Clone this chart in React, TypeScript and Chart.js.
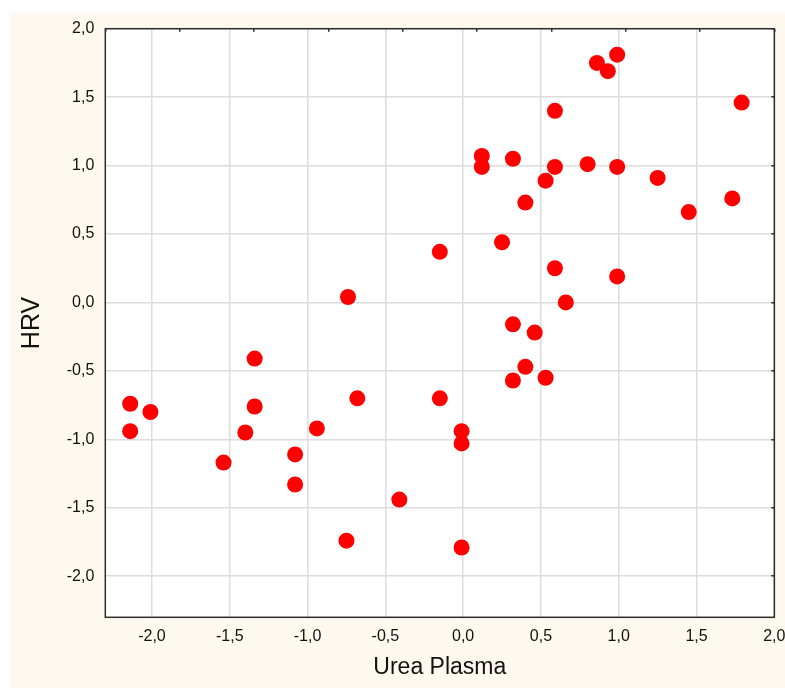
import React, { useEffect, useRef } from "react";
import { Chart, registerables } from "chart.js";

Chart.register(...registerables);

// Urea Plasma (x) vs HRV (y)
const ureaPlasma = [
  -2.14, -2.14, -2.01, -1.54, -1.40, -1.34, -1.34, -1.08, -1.08, -0.94,
  -0.74, -0.75, -0.68, -0.41, -0.15, -0.15, -0.01, -0.01, -0.01, 0.12,
  0.12, 0.25, 0.32, 0.32, 0.32, 0.40, 0.40, 0.46, 0.53, 0.53,
  0.59, 0.59, 0.59, 0.66, 0.80, 0.86, 0.93, 0.99, 0.99, 0.99,
  1.25, 1.45, 1.73, 1.79,
];
const hrv = [
  -0.74, -0.94, -0.80, -1.17, -0.95, -0.41, -0.76, -1.11, -1.33, -0.92,
  0.04, -1.74, -0.70, -1.44, 0.37, -0.70, -0.94, -1.03, -1.79, 1.07,
  0.99, 0.44, 1.05, -0.16, -0.57, 0.73, -0.47, -0.22, 0.89, -0.55,
  1.40, 0.99, 0.25, 0.00, 1.01, 1.75, 1.69, 1.81, 0.99, 0.19,
  0.91, 0.66, 0.76, 1.46,
];

const xTickValues = [-2.0, -1.5, -1.0, -0.5, 0.0, 0.5, 1.0, 1.5, 2.0];
const yTickValues = [-2.0, -1.5, -1.0, -0.5, 0.0, 0.5, 1.0, 1.5, 2.0];
const topMinorTicks = [0, 1, 2, 3, 4, 5, 6, 7, 8, 9];

const xTitle = "Urea Plasma";
const yTitle = "HRV";

const fmt = (v: number) => v.toFixed(1).replace(".", ",");
const FONT = "'Liberation Sans', Arial, sans-serif";

const noPad = (s: any) => {
  s.paddingLeft = 0;
  s.paddingRight = 0;
  s.paddingTop = 0;
  s.paddingBottom = 0;
};

const backgroundPlugin = {
  id: "bgPlugin",
  beforeDraw(chart: any) {
    const { ctx, width, height } = chart;
    ctx.save();
    ctx.fillStyle = "#ffffff";
    ctx.fillRect(0, 0, width, height);
    ctx.fillStyle = "#fef9ef";
    ctx.fillRect(10, 13, width - 10, height - 14);
    const a = chart.chartArea;
    ctx.fillStyle = "#ffffff";
    ctx.fillRect(a.left, a.top, a.right - a.left, a.bottom - a.top);
    ctx.restore();
  },
  beforeDatasetsDraw(chart: any) {
    const { ctx } = chart;
    const a = chart.chartArea;
    ctx.save();
    ctx.strokeStyle = "#2e2e2e";
    ctx.lineWidth = 1.5;
    ctx.strokeRect(a.left, a.top, a.right - a.left, a.bottom - a.top);
    ctx.restore();
  },
};

export default function App() {
  const ref = useRef<HTMLCanvasElement | null>(null);
  useEffect(() => {
    if (!ref.current) return;
    const points = ureaPlasma.map((x, i) => ({ x, y: hrv[i] }));
    const chart = new Chart(ref.current, {
      type: "scatter",
      data: {
        datasets: [
          {
            data: points,
            backgroundColor: "#ff0000",
            borderWidth: 0,
            pointRadius: 8,
            pointHoverRadius: 8,
          },
        ],
      },
      plugins: [backgroundPlugin],
      options: {
        animation: false,
        responsive: false,
        devicePixelRatio: 1,
        layout: { padding: { left: 10, top: 28.7, right: 10.7, bottom: 0 } },
        plugins: { legend: { display: false }, tooltip: { enabled: false } },
        scales: {
          x: {
            type: "linear",
            position: "bottom",
            min: -2.3,
            max: 2.0,
            afterBuildTicks: (s: any) => {
              s.ticks = xTickValues.map((v) => ({ value: v }));
            },
            afterFit: (s: any) => {
              s.height = 71.7;
              noPad(s);
            },
            grid: { color: "#dcdcdc", lineWidth: 1.5, drawTicks: false },
            border: { display: false },
            ticks: {
              padding: 10,
              color: "#111111",
              font: { family: FONT, size: 16 },
              callback: (v: any) => fmt(Number(v)),
            },
            title: {
              display: true,
              text: xTitle,
              color: "#111111",
              font: { family: FONT, size: 23 },
              padding: { top: 0, bottom: 7.2 },
            },
          },
          y: {
            type: "linear",
            position: "left",
            min: -2.3,
            max: 2.0,
            afterBuildTicks: (s: any) => {
              s.ticks = yTickValues.map((v) => ({ value: v }));
            },
            afterFit: (s: any) => {
              s.width = 95.3;
              noPad(s);
            },
            grid: { color: "#dcdcdc", lineWidth: 1.5, drawTicks: false },
            border: { display: false },
            ticks: {
              padding: 11,
              color: "#111111",
              font: { family: FONT, size: 16 },
              callback: (v: any) => fmt(Number(v)),
            },
            title: {
              display: true,
              text: yTitle,
              color: "#111111",
              font: { family: FONT, size: 25 },
              padding: { top: 7.5, bottom: 0 },
            },
          },
          x2: {
            type: "linear",
            axis: "x",
            position: "top",
            min: 0,
            max: 9,
            afterBuildTicks: (s: any) => {
              s.ticks = topMinorTicks.map((v) => ({ value: v }));
            },
            afterFit: (s: any) => {
              s.height = 0;
              noPad(s);
            },
            grid: {
              drawOnChartArea: false,
              drawTicks: true,
              tickLength: -3,
              color: "#2e2e2e",
              lineWidth: 1.5,
            },
            border: { display: false },
            ticks: { display: false },
          },
          y2: {
            type: "linear",
            axis: "y",
            position: "right",
            min: -2.3,
            max: 2.0,
            afterBuildTicks: (s: any) => {
              s.ticks = yTickValues.map((v) => ({ value: v }));
            },
            afterFit: (s: any) => {
              s.width = 0;
              noPad(s);
            },
            grid: {
              drawOnChartArea: false,
              drawTicks: true,
              tickLength: -3,
              color: "#2e2e2e",
              lineWidth: 1.5,
            },
            border: { display: false },
            ticks: { display: false },
          },
        },
      } as any,
    });
    return () => chart.destroy();
  }, []);

  return (
    <div
      style={{
        position: "fixed",
        left: 0,
        top: 0,
        width: 785,
        height: 689,
        background: "#ffffff",
      }}
    >
      <canvas ref={ref} width={785} height={689} style={{ width: 785, height: 689, display: "block" }} />
    </div>
  );
}
